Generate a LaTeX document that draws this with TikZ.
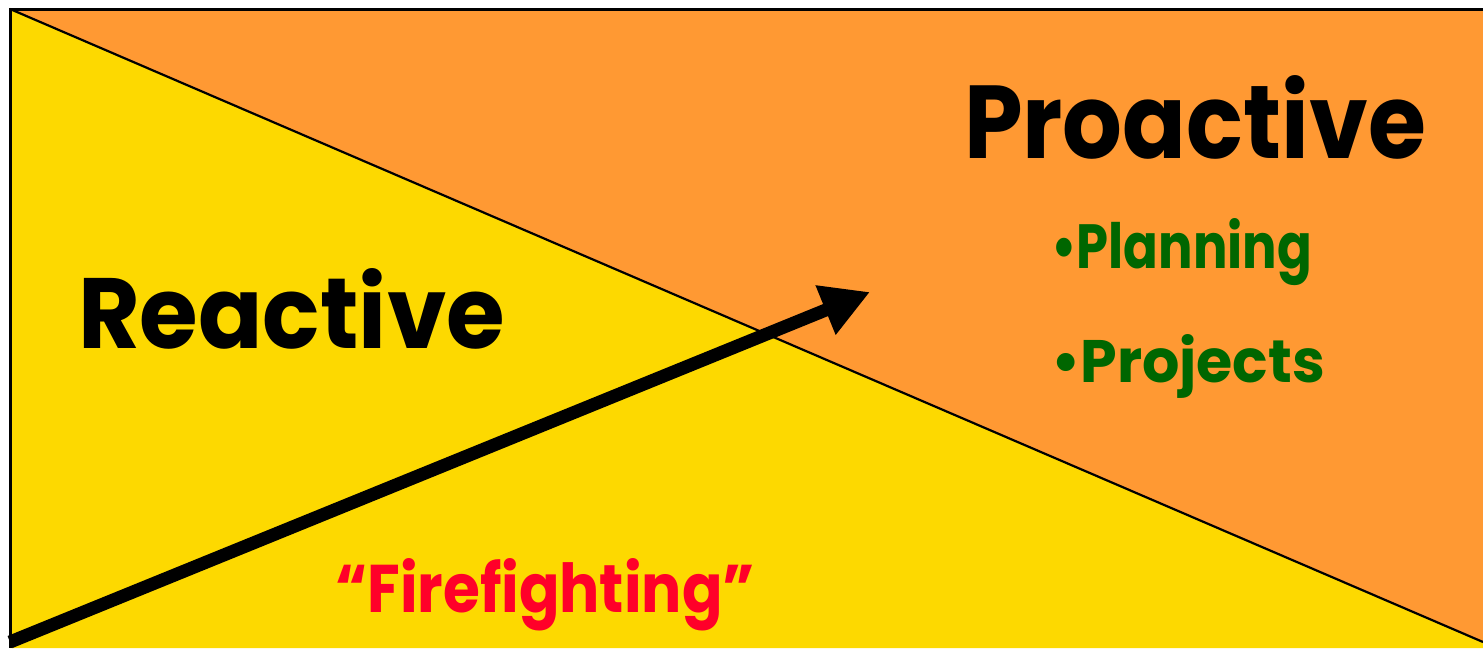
\documentclass[tikz,border=0pt]{standalone}
\usepackage{fontspec}
\setmainfont{Poppins}
\usepackage{graphicx}
\usetikzlibrary{arrows.meta}
\definecolor{orangebg}{RGB}{255,153,51}
\definecolor{yellowbg}{RGB}{253,217,0}
\definecolor{darkgreen}{RGB}{0,102,0}
\definecolor{firered}{RGB}{255,0,41}
\tikzset{
  lbl/.style={anchor=base west, inner sep=0pt, outer sep=0pt, font=\bfseries},
  bigarrow/.style={line width=13pt, -{Triangle[width=50pt,length=48pt]}},
  border/.style={line width=3pt},
  divider/.style={line width=2.2pt}
}
\newcommand{\fitbox}[3]{\resizebox{#1pt}{#2pt}{\fontsize{100}{100}\selectfont #3}}
\begin{document}
\begin{tikzpicture}[x=1pt,y=-1pt]
\useasboundingbox (0,0) rectangle (1483,648);
% backgrounds
\fill[orangebg] (10,9) rectangle (1483,648);
\fill[yellowbg] (10,9) -- (1483,642) -- (1483,648) -- (10,648) -- cycle;
% borders and divider
\coordinate (tl) at (10,9);
\coordinate (tr) at (1483,9);
\coordinate (bl) at (10,648);
\coordinate (br) at (1483,642);
\draw[divider] (tl) -- (br);
\draw[border] (tr) -- (tl) -- (bl);
% texts
\node[lbl] (pro) at (964,158) {\fitbox{462}{83}{Proactive}};
\node[lbl] (rea) at (78,348) {\fitbox{427}{80}{Reactive}};
\node[lbl, text=firered] (fire) at (335,612) {\fitbox{420}{54}{“Firefighting”}};
\node[lbl, text=darkgreen] (plan) at (1051,268) {\fitbox{261}{50}{•Planning}};
\node[lbl, text=darkgreen] (proj) at (1051,382) {\fitbox{274}{48}{•Projects}};
% arrow
\coordinate (as) at (10,642);
\coordinate (at) at (870,292);
\draw[bigarrow] (as) -- (at);
\end{tikzpicture}
\end{document}
